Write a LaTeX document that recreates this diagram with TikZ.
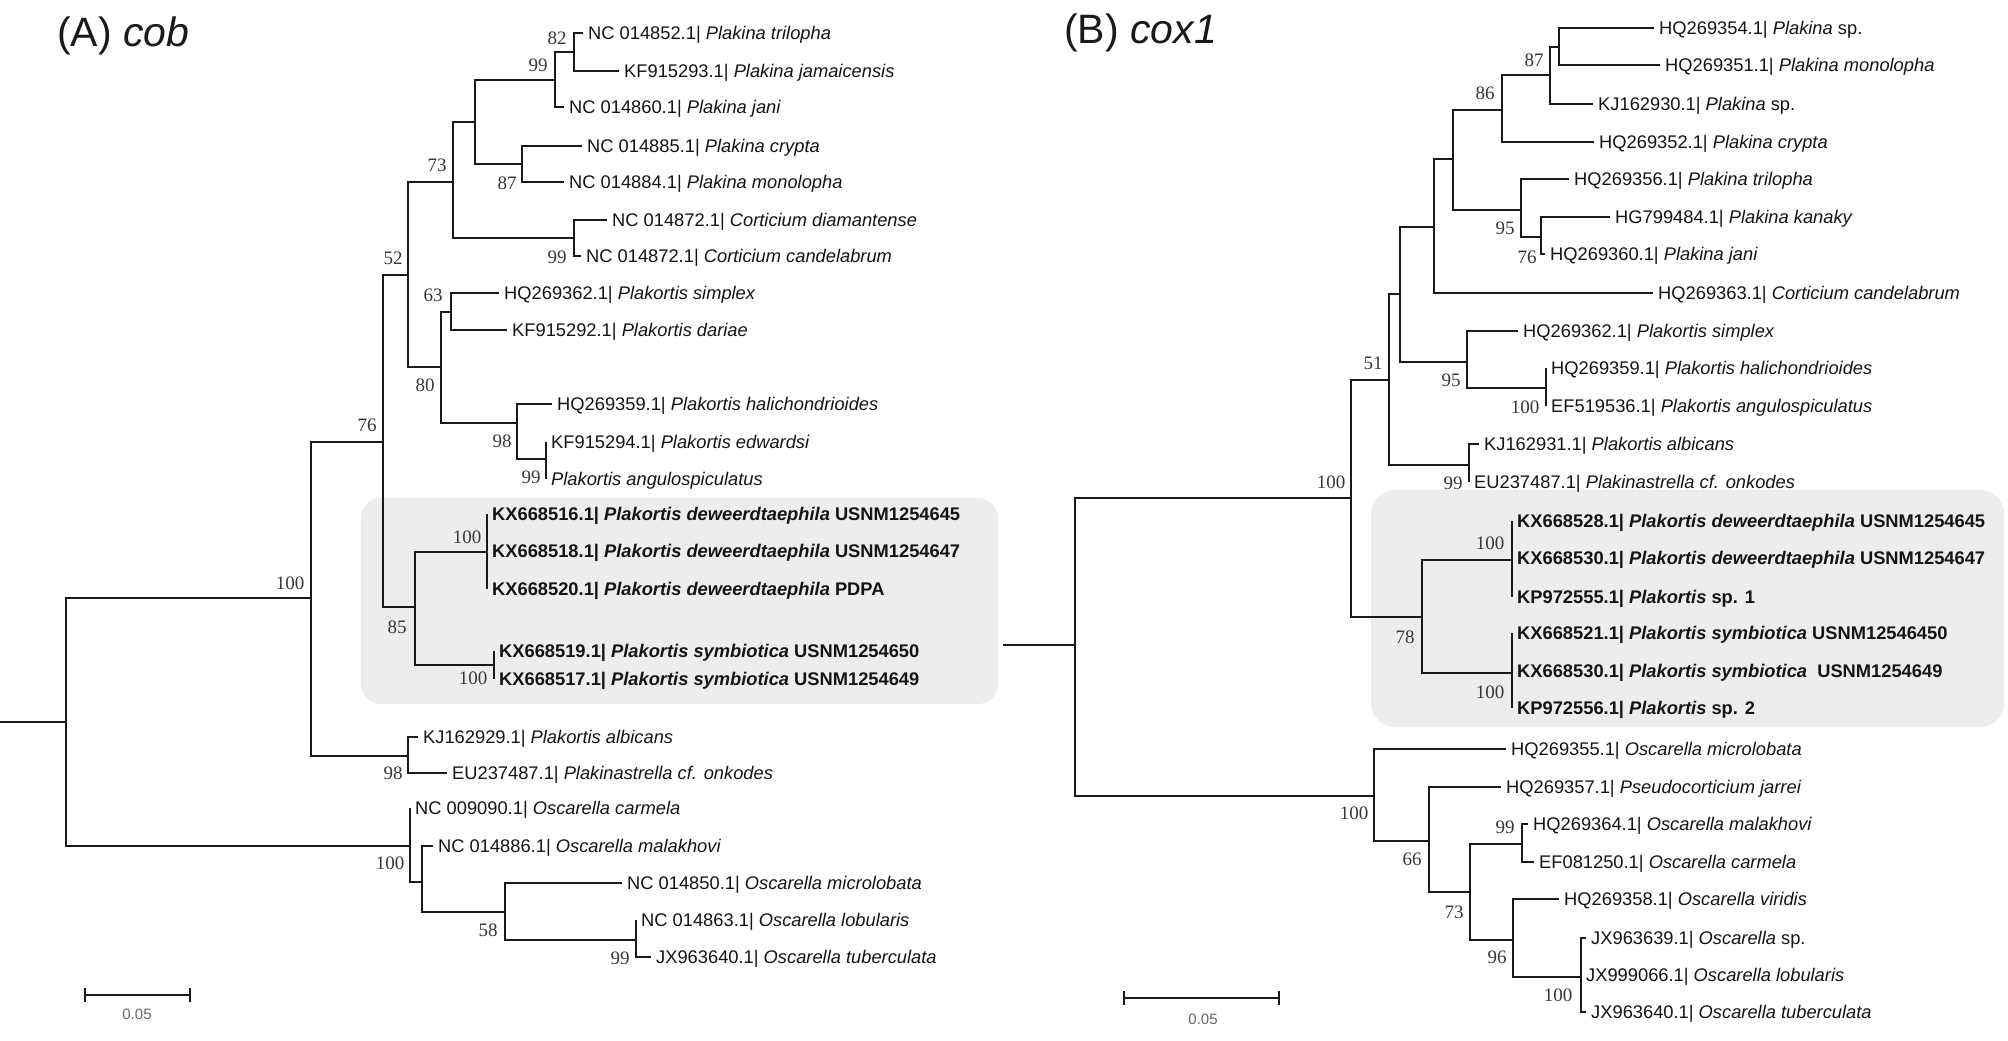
\documentclass[tikz,border=0pt]{standalone}
\usepackage{fontspec}
\setmainfont{Liberation Sans}
\newfontfamily\bsserif{Liberation Serif}
\newcommand\labfont{\fontsize{18.3}{20}\selectfont}
\newcommand\bsfont{\bsserif\fontsize{19}{20}\selectfont}
\definecolor{boxgray}{HTML}{EDEDED}
\tikzset{
  br/.style={line width=2.3pt, draw=black!90, line join=miter},
  leaf/.style={anchor=west, inner xsep=5pt, inner ysep=0pt, text height=13pt, text depth=0pt, font=\labfont, text=black!92},
  bs/.style={inner sep=0pt, font=\bsfont, text=black!78},
  ttl/.style={anchor=west, inner sep=0pt, font=\fontsize{41}{44}\selectfont, text=black!90},
  sclab/.style={inner sep=0pt, font=\fontsize{15}{16}\selectfont, text=black!60},
}
\begin{document}
\begin{tikzpicture}[x=1pt,y=-1pt]
\fill[white] (0,0) rectangle (2008,1041);
\useasboundingbox (0,0) rectangle (2008,1041);

% highlight boxes
\fill[boxgray, rounded corners=20pt] (361,498) rectangle (998,704);
\fill[boxgray, rounded corners=24pt] (1371,490) rectangle (2004,727);

% titles
\node[ttl] (tA) at (57,36) {(A) \textit{cob}};
\node[ttl] (tB) at (1064,33) {(B) \textit{cox1}};

% ================= Panel A =================
\node[leaf] (A1) at (583,33) {NC 014852.1| \textit{Plakina trilopha}};
\node[leaf] (A2) at (619,71) {KF915293.1| \textit{Plakina jamaicensis}};
\node[leaf] (A3) at (564,107) {NC 014860.1| \textit{Plakina jani}};
\node[leaf] (A4) at (582,146) {NC 014885.1| \textit{Plakina crypta}};
\node[leaf] (A5) at (564,182) {NC 014884.1| \textit{Plakina monolopha}};
\node[leaf] (A6) at (607,220) {NC 014872.1| \textit{Corticium diamantense}};
\node[leaf] (A7) at (581,256) {NC 014872.1| \textit{Corticium candelabrum}};
\node[leaf] (A8) at (499,293) {HQ269362.1| \textit{Plakortis simplex}};
\node[leaf] (A9) at (507,330) {KF915292.1| \textit{Plakortis dariae}};
\node[leaf] (A10) at (552,404) {HQ269359.1| \textit{Plakortis halichondrioides}};
\node[leaf] (A11) at (546,442) {KF915294.1| \textit{Plakortis edwardsi}};
\node[leaf] (A12) at (546,479) {\textit{Plakortis angulospiculatus}};
\node[leaf] (A13) at (487,514) {\textbf{KX668516.1| \textit{Plakortis deweerdtaephila} USNM1254645}};
\node[leaf] (A14) at (487,551) {\textbf{KX668518.1| \textit{Plakortis deweerdtaephila} USNM1254647}};
\node[leaf] (A15) at (487,589) {\textbf{KX668520.1| \textit{Plakortis deweerdtaephila} PDPA}};
\node[leaf] (A16) at (494,651) {\textbf{KX668519.1| \textit{Plakortis symbiotica} USNM1254650}};
\node[leaf] (A17) at (494,679) {\textbf{KX668517.1| \textit{Plakortis symbiotica} USNM1254649}};
\node[leaf] (A18) at (418,737) {KJ162929.1| \textit{Plakortis albicans}};
\node[leaf] (A19) at (447,773) {EU237487.1| \textit{Plakinastrella cf. onkodes}};
\node[leaf] (A20) at (410,808) {NC 009090.1| \textit{Oscarella carmela}};
\node[leaf] (A21) at (433,846) {NC 014886.1| \textit{Oscarella malakhovi}};
\node[leaf] (A22) at (622,883) {NC 014850.1| \textit{Oscarella microlobata}};
\node[leaf] (A23) at (636,920) {NC 014863.1| \textit{Oscarella lobularis}};
\node[leaf] (A24) at (651,957) {JX963640.1| \textit{Oscarella tuberculata}};

\coordinate (nA82) at (574,52);
\coordinate (nA99a) at (555,80);
\coordinate (nA87) at (522,164);
\coordinate (nAp) at (475,122);
\coordinate (nA99b) at (574,238);
\coordinate (nA73) at (453,182);
\coordinate (nA63) at (451,312);
\coordinate (nA99c) at (546,459);
\coordinate (nA98) at (517,423);
\coordinate (nA80) at (441,367);
\coordinate (nA52) at (408,275);
\coordinate (nA100a) at (487,552);
\coordinate (nA100b) at (494,665);
\coordinate (nA85) at (415,607);
\coordinate (nA76) at (383,442);
\coordinate (nA98b) at (408,756);
\coordinate (nA100c) at (311,598);
\coordinate (nA99d) at (636,940);
\coordinate (nA58) at (505,912);
\coordinate (nAm) at (422,882);
\coordinate (nA100d) at (410,846);
\coordinate (rootA) at (66,722);
\coordinate (stemA) at (0,722);

\draw[br] (nA82) |- (A1.west);
\draw[br] (nA82) |- (A2.west);
\draw[br] (nA99a) |- (nA82);
\draw[br] (nA99a) |- (A3.west);
\draw[br] (nA87) |- (A4.west);
\draw[br] (nA87) |- (A5.west);
\draw[br] (nAp) |- (nA99a);
\draw[br] (nAp) |- (nA87);
\draw[br] (nA99b) |- (A6.west);
\draw[br] (nA99b) |- (A7.west);
\draw[br] (nA73) |- (nAp);
\draw[br] (nA73) |- (nA99b);
\draw[br] (nA63) |- (A8.west);
\draw[br] (nA63) |- (A9.west);
\draw[br] (nA99c) |- (A11.west);
\draw[br] (nA99c) |- (A12.west);
\draw[br] (nA98) |- (A10.west);
\draw[br] (nA98) |- (nA99c);
\draw[br] (nA80) |- (nA63);
\draw[br] (nA80) |- (nA98);
\draw[br] (nA52) |- (nA73);
\draw[br] (nA52) |- (nA80);
\draw[br] (nA100a) |- (A13.west);
\draw[br] (nA100a) |- (A14.west);
\draw[br] (nA100a) |- (A15.west);
\draw[br] (nA100b) |- (A16.west);
\draw[br] (nA100b) |- (A17.west);
\draw[br] (nA85) |- (nA100a);
\draw[br] (nA85) |- (nA100b);
\draw[br] (nA76) |- (nA52);
\draw[br] (nA76) |- (nA85);
\draw[br] (nA98b) |- (A18.west);
\draw[br] (nA98b) |- (A19.west);
\draw[br] (nA100c) |- (nA76);
\draw[br] (nA100c) |- (nA98b);
\draw[br] (nA99d) |- (A23.west);
\draw[br] (nA99d) |- (A24.west);
\draw[br] (nA58) |- (A22.west);
\draw[br] (nA58) |- (nA99d);
\draw[br] (nAm) |- (A21.west);
\draw[br] (nAm) |- (nA58);
\draw[br] (nA100d) |- (A20.west);
\draw[br] (nA100d) |- (nAm);
\draw[br] (rootA) |- (nA100c);
\draw[br] (rootA) |- (nA100d);
\draw[br] (stemA) -- (rootA);

% bootstrap A
\node[bs] (bA1) at (557,38) {82};
\node[bs] (bA2) at (538,65) {99};
\node[bs] (bA3) at (507,183) {87};
\node[bs] (bA4) at (437,165) {73};
\node[bs] (bA5) at (557,257) {99};
\node[bs] (bA6) at (393,258) {52};
\node[bs] (bA7) at (433,295) {63};
\node[bs] (bA8) at (425,385) {80};
\node[bs] (bA9) at (502,441) {98};
\node[bs] (bA10) at (531,477) {99};
\node[bs] (bA11) at (367,425) {76};
\node[bs] (bA12) at (467,537) {100};
\node[bs] (bA13) at (397,627) {85};
\node[bs] (bA14) at (473,678) {100};
\node[bs] (bA15) at (290,583) {100};
\node[bs] (bA16) at (393,773) {98};
\node[bs] (bA17) at (390,863) {100};
\node[bs] (bA18) at (488,930) {58};
\node[bs] (bA19) at (620,958) {99};

% scale A
\coordinate (sA1) at (85,995);
\coordinate (sA2) at (190,995);
\draw[br] (sA1) -- (sA2);
\draw[br] ([yshift=7pt]sA1) -- ([yshift=-7pt]sA1);
\draw[br] ([yshift=7pt]sA2) -- ([yshift=-7pt]sA2);
\node[sclab] (sAl) at (137,1014) {0.05};

% ================= Panel B =================
\node[leaf] (B1) at (1654,28) {HQ269354.1| \textit{Plakina} sp.};
\node[leaf] (B2) at (1660,65) {HQ269351.1| \textit{Plakina monolopha}};
\node[leaf] (B3) at (1593,104) {KJ162930.1| \textit{Plakina} sp.};
\node[leaf] (B4) at (1594,142) {HQ269352.1| \textit{Plakina crypta}};
\node[leaf] (B5) at (1569,179) {HQ269356.1| \textit{Plakina trilopha}};
\node[leaf] (B6) at (1610,217) {HG799484.1| \textit{Plakina kanaky}};
\node[leaf] (B7) at (1545,254) {HQ269360.1| \textit{Plakina jani}};
\node[leaf] (B8) at (1653,293) {HQ269363.1| \textit{Corticium candelabrum}};
\node[leaf] (B9) at (1518,331) {HQ269362.1| \textit{Plakortis simplex}};
\node[leaf] (B10) at (1546,368) {HQ269359.1| \textit{Plakortis halichondrioides}};
\node[leaf] (B11) at (1546,406) {EF519536.1| \textit{Plakortis angulospiculatus}};
\node[leaf] (B12) at (1479,444) {KJ162931.1| \textit{Plakortis albicans}};
\node[leaf] (B13) at (1469,482) {EU237487.1| \textit{Plakinastrella cf. onkodes}};
\node[leaf] (B14) at (1512,521) {\textbf{KX668528.1| \textit{Plakortis deweerdtaephila} USNM1254645}};
\node[leaf] (B15) at (1512,558) {\textbf{KX668530.1| \textit{Plakortis deweerdtaephila} USNM1254647}};
\node[leaf] (B16) at (1512,597) {\textbf{KP972555.1| \textit{Plakortis} sp. 1}};
\node[leaf] (B17) at (1512,633) {\textbf{KX668521.1| \textit{Plakortis symbiotica} USNM12546450}};
\node[leaf] (B18) at (1512,671) {\textbf{KX668530.1| \textit{Plakortis symbiotica}\ \ USNM1254649}};
\node[leaf] (B19) at (1512,708) {\textbf{KP972556.1| \textit{Plakortis} sp. 2}};
\node[leaf] (B20) at (1506,749) {HQ269355.1| \textit{Oscarella microlobata}};
\node[leaf] (B21) at (1501,787) {HQ269357.1| \textit{Pseudocorticium jarrei}};
\node[leaf] (B22) at (1528,824) {HQ269364.1| \textit{Oscarella malakhovi}};
\node[leaf] (B23) at (1534,862) {EF081250.1| \textit{Oscarella carmela}};
\node[leaf] (B24) at (1559,899) {HQ269358.1| \textit{Oscarella viridis}};
\node[leaf] (B25) at (1586,938) {JX963639.1| \textit{Oscarella} sp.};
\node[leaf] (B26) at (1581,975) {JX999066.1| \textit{Oscarella lobularis}};
\node[leaf] (B27) at (1586,1012) {JX963640.1| \textit{Oscarella tuberculata}};

\coordinate (nB87) at (1559,47);
\coordinate (nB1550) at (1550,75);
\coordinate (nB86) at (1502,110);
\coordinate (nB76) at (1541,237);
\coordinate (nB95) at (1521,210);
\coordinate (nB1453) at (1453,159);
\coordinate (nB1434) at (1434,227);
\coordinate (nB100a) at (1546,388);
\coordinate (nB95b) at (1467,362);
\coordinate (nB1400) at (1400,294);
\coordinate (nB99) at (1469,465);
\coordinate (nB51) at (1389,380);
\coordinate (nB100d) at (1512,560);
\coordinate (nB100s) at (1512,673);
\coordinate (nB78) at (1422,617);
\coordinate (nB100b) at (1351,498);
\coordinate (nB100o) at (1581,977);
\coordinate (nB96) at (1513,940);
\coordinate (nB99o) at (1522,844);
\coordinate (nB73) at (1470,892);
\coordinate (nB66) at (1429,841);
\coordinate (nB100c) at (1374,796);
\coordinate (rootB) at (1075,645);
\coordinate (stemB) at (1003,645);

\draw[br] (nB87) |- (B1.west);
\draw[br] (nB87) |- (B2.west);
\draw[br] (nB1550) |- (nB87);
\draw[br] (nB1550) |- (B3.west);
\draw[br] (nB86) |- (nB1550);
\draw[br] (nB86) |- (B4.west);
\draw[br] (nB76) |- (B6.west);
\draw[br] (nB76) |- (B7.west);
\draw[br] (nB95) |- (B5.west);
\draw[br] (nB95) |- (nB76);
\draw[br] (nB1453) |- (nB86);
\draw[br] (nB1453) |- (nB95);
\draw[br] (nB1434) |- (nB1453);
\draw[br] (nB1434) |- (B8.west);
\draw[br] (nB100a) |- (B10.west);
\draw[br] (nB100a) |- (B11.west);
\draw[br] (nB95b) |- (B9.west);
\draw[br] (nB95b) |- (nB100a);
\draw[br] (nB1400) |- (nB1434);
\draw[br] (nB1400) |- (nB95b);
\draw[br] (nB99) |- (B12.west);
\draw[br] (nB99) |- (B13.west);
\draw[br] (nB51) |- (nB1400);
\draw[br] (nB51) |- (nB99);
\draw[br] (nB100d) |- (B14.west);
\draw[br] (nB100d) |- (B15.west);
\draw[br] (nB100d) |- (B16.west);
\draw[br] (nB100s) |- (B17.west);
\draw[br] (nB100s) |- (B18.west);
\draw[br] (nB100s) |- (B19.west);
\draw[br] (nB78) |- (nB100d);
\draw[br] (nB78) |- (nB100s);
\draw[br] (nB100b) |- (nB51);
\draw[br] (nB100b) |- (nB78);
\draw[br] (nB100o) |- (B25.west);
\draw[br] (nB100o) |- (B26.west);
\draw[br] (nB100o) |- (B27.west);
\draw[br] (nB96) |- (B24.west);
\draw[br] (nB96) |- (nB100o);
\draw[br] (nB99o) |- (B22.west);
\draw[br] (nB99o) |- (B23.west);
\draw[br] (nB73) |- (nB99o);
\draw[br] (nB73) |- (nB96);
\draw[br] (nB66) |- (B21.west);
\draw[br] (nB66) |- (nB73);
\draw[br] (nB100c) |- (B20.west);
\draw[br] (nB100c) |- (nB66);
\draw[br] (rootB) |- (nB100b);
\draw[br] (rootB) |- (nB100c);
\draw[br] (stemB) -- (rootB);

% bootstrap B
\node[bs] (bB1) at (1534,60) {87};
\node[bs] (bB2) at (1485,93) {86};
\node[bs] (bB3) at (1505,228) {95};
\node[bs] (bB4) at (1527,257) {76};
\node[bs] (bB5) at (1373,363) {51};
\node[bs] (bB6) at (1451,380) {95};
\node[bs] (bB7) at (1525,407) {100};
\node[bs] (bB8) at (1453,483) {99};
\node[bs] (bB9) at (1331,482) {100};
\node[bs] (bB10) at (1490,543) {100};
\node[bs] (bB11) at (1405,637) {78};
\node[bs] (bB12) at (1490,692) {100};
\node[bs] (bB13) at (1354,813) {100};
\node[bs] (bB14) at (1412,859) {66};
\node[bs] (bB15) at (1505,827) {99};
\node[bs] (bB16) at (1454,912) {73};
\node[bs] (bB17) at (1497,957) {96};
\node[bs] (bB18) at (1558,995) {100};

% scale B
\coordinate (sB1) at (1124,998);
\coordinate (sB2) at (1279,998);
\draw[br] (sB1) -- (sB2);
\draw[br] ([yshift=7pt]sB1) -- ([yshift=-7pt]sB1);
\draw[br] ([yshift=7pt]sB2) -- ([yshift=-7pt]sB2);
\node[sclab] (sBl) at (1203,1019) {0.05};
\end{tikzpicture}
\end{document}
